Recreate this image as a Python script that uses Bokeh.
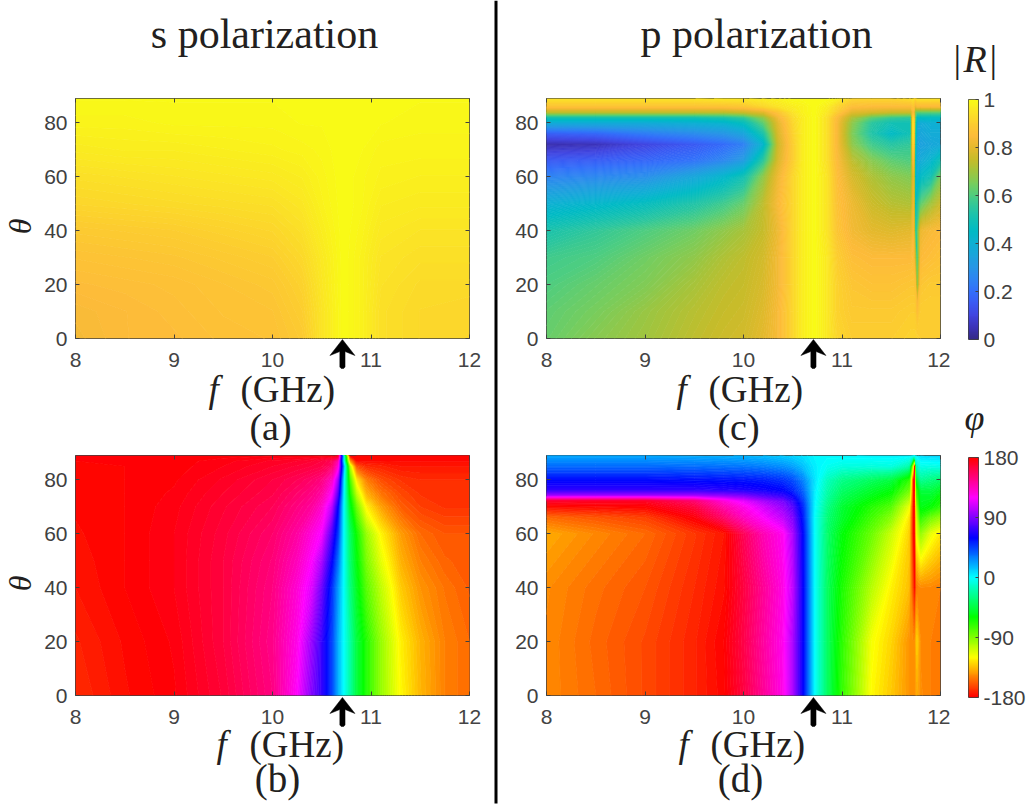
import colorsys
import math
import numpy as np
from bokeh.embed import file_html
from bokeh.layouts import column, row
from bokeh.models import FixedTicker, Label, LinearAxis, LinearColorMapper
from bokeh.plotting import figure
from bokeh.resources import INLINE

# ---------- data ----------
a_f = [8, 8.5, 9, 9.5, 10, 10.3, 10.5, 10.72, 10.9, 11.1, 11.5, 12]
a_t = [0, 10, 20, 30, 40, 50, 60, 70, 80, 89]
a_R = [
    [.835, .85, .855, .865, .87, .89, .95, 1, .98, .94, .925, .92],
    [.84, .85, .86, .87, .875, .90, .95, 1, .98, .94, .925, .92],
    [.855, .86, .865, .875, .885, .91, .955, 1, .98, .945, .93, .93],
    [.87, .875, .88, .89, .90, .925, .96, 1, .98, .95, .94, .94],
    [.89, .895, .90, .91, .92, .94, .97, 1, .985, .96, .95, .95],
    [.92, .925, .93, .935, .94, .955, .98, 1, .99, .97, .965, .965],
    [.94, .945, .95, .955, .96, .97, .985, 1, .99, .98, .975, .975],
    [.965, .97, .97, .975, .98, .985, .99, 1, .995, .985, .985, .985],
    [.985, .985, .99, .99, .99, .995, .995, 1, .995, .995, .99, .99],
    [.995, .995, .995, .995, .995, .995, .995, 1, .995, .995, .995, .995],
]

c_f = [8, 8.5, 9, 9.5, 9.8, 10, 10.2, 10.35, 10.5, 10.6, 10.72, 10.85, 10.95, 11.1, 11.3, 11.5,
       11.70, 11.725, 11.74, 11.76, 11.8, 11.9, 12]
c_t = [0, 10, 20, 30, 40, 50, 60, 66, 72, 76, 80, 82, 84, 86, 89]
c_R = [
    [.63, .67, .70, .74, .76, .77, .80, .84, .92, .97, 1, .96, .92, .90, .90, .90, .91, .91, .91, .91, .90, .90, .90],
    [.62, .65, .69, .73, .75, .76, .79, .84, .92, .97, 1, .96, .91, .89, .89, .89, .90, .90, .90, .85, .90, .90, .90],
    [.60, .63, .66, .71, .74, .75, .78, .83, .92, .97, 1, .96, .91, .88, .87, .87, .88, .88, .88, .60, .88, .89, .89],
    [.58, .60, .64, .68, .72, .74, .77, .83, .92, .97, 1, .96, .90, .86, .85, .85, .85, .86, .75, .50, .85, .86, .87],
    [.52, .56, .60, .64, .68, .71, .75, .82, .92, .97, 1, .95, .88, .83, .80, .79, .80, .84, .55, .55, .82, .84, .85],
    [.40, .43, .47, .53, .58, .63, .74, .84, .92, .97, 1, .95, .87, .82, .76, .73, .72, .82, .45, .50, .62, .70, .76],
    [.25, .26, .28, .36, .43, .50, .68, .82, .92, .97, 1, .95, .86, .78, .72, .68, .66, .80, .45, .40, .45, .50, .65],
    [.15, .16, .18, .21, .26, .32, .55, .78, .90, .97, 1, .94, .85, .74, .67, .62, .60, .85, .45, .36, .38, .42, .50],
    [.04, .05, .10, .15, .19, .24, .42, .76, .90, .97, 1, .94, .84, .68, .58, .54, .56, .92, .48, .35, .34, .36, .37],
    [.16, .18, .23, .27, .30, .35, .52, .78, .91, .97, 1, .94, .84, .66, .53, .45, .50, .95, .50, .36, .36, .38, .38],
    [.38, .38, .38, .40, .42, .47, .62, .80, .92, .97, 1, .94, .84, .68, .55, .50, .50, .95, .55, .38, .38, .40, .40],
    [.50, .50, .50, .50, .52, .56, .68, .83, .93, .97, 1, .94, .85, .72, .62, .57, .55, .92, .60, .46, .46, .46, .46],
    [.74, .74, .74, .74, .74, .76, .80, .88, .95, .98, 1, .96, .90, .80, .78, .76, .76, .85, .66, .62, .62, .62, .62],
    [.87, .87, .87, .87, .87, .88, .92, .95, .97, .98, 1, .97, .92, .86, .85, .85, .85, .88, .80, .84, .84, .84, .84],
    [.95, .95, .95, .95, .96, .96, .97, .98, 1, 1, 1, 1, .98, .92, .92, .92, .94, .95, .90, .95, .95, .95, .95],
]

# phases are kept unwrapped: the colour scale repeats every 360 degrees
b_f = [8, 8.5, 9, 9.5, 10, 10.25, 10.4, 10.5, 10.6, 10.66, 10.72, 10.78, 10.85, 10.95, 11.1, 11.3, 11.5, 11.75, 12]
b_t = [0, 20, 40, 50, 60, 70, 75, 80, 85, 87, 89]
b_phi = [
    [190, 183, 178, 167, 150, 120, 90, 72, 45, 20, 0, -20, -45, -67, -95, -121, -137, -150, -155],
    [188, 182, 177, 165, 148, 125, 95, 72, 45, 20, 0, -20, -45, -67, -95, -123, -138, -150, -155],
    [185, 180, 175, 165, 150, 130, 112, 85, 50, 25, 0, -28, -52, -80, -105, -132, -145, -153, -158],
    [184, 180, 175, 165, 152, 136, 120, 100, 62, 35, 0, -32, -57, -88, -114, -138, -150, -157, -159],
    [183, 180, 175, 166, 155, 142, 128, 118, 78, 48, 0, -35, -62, -95, -122, -143, -155, -160, -160],
    [182, 180, 176, 168, 160, 150, 143, 132, 105, 62, 0, -50, -85, -122, -142, -158, -165, -168, -168],
    [181, 180, 177, 170, 163, 155, 149, 142, 122, 82, 2, -62, -105, -138, -153, -163, -168, -169, -169],
    [181, 180, 178, 172, 165, 160, 155, 150, 135, 100, 5, -75, -125, -150, -162, -168, -170, -170, -170],
    [181, 180, 179, 175, 170, 167, 165, 163, 155, 130, 20, -100, -160, -170, -172, -175, -175, -175, -175],
    [180, 180, 179, 176, 172, 170, 168, 165, 160, 140, 0, -140, -178, -178, -178, -178, -178, -178, -178],
    [180, 180, 180, 179, 178, 178, 178, 178, 178, 175, 0, -178, -180, -180, -180, -180, -180, -180, -180],
]

d_f = [8, 8.5, 9, 9.5, 9.8, 10, 10.2, 10.4, 10.5, 10.6, 10.72, 10.85, 11, 11.3, 11.5,
       11.68, 11.72, 11.74, 11.76, 11.8, 11.9, 12]
d_t = [0, 20, 40, 60, 66, 70, 72, 74, 76, 80, 85, 89]
d_phi = [
    [212, 205, 197, 188, 181, 165, 145, 125, 100, 62, 0, -38, -72, -121, -133, -145, -146, -146, -140, -147, -150, -152],
    [212, 204, 197, 188, 180, 163, 143, 124, 100, 62, 0, -38, -70, -118, -130, -145, -147, -147, -130, -148, -150, -152],
    [213, 206, 200, 190, 183, 165, 145, 126, 105, 62, 0, -38, -66, -103, -123, -135, -165, -185, -150, -148, -148, -150],
    [220, 212, 205, 193, 185, 160, 138, 123, 100, 60, 0, -35, -58, -85, -108, -130, -178, -190, -115, -95, -115, -125],
    [205, 200, 195, 178, 155, 135, 120, 105, 90, 55, 0, -32, -50, -75, -92, -125, -178, -190, -110, -70, -85, -95],
    [182, 181, 180, 165, 140, 125, 110, 95, 80, 52, 2, -28, -48, -68, -80, -115, -178, -195, -100, -55, -60, -70],
    [170, 172, 172, 155, 130, 115, 100, 88, 72, 48, 3, -25, -44, -62, -72, -105, -178, -198, -90, -52, -55, -65],
    [100, 100, 100, 100, 95, 90, 80, 72, 62, 42, 4, -22, -40, -55, -65, -95, -178, -200, -80, -50, -50, -60],
    [72, 72, 72, 72, 70, 68, 65, 60, 52, 38, 5, -20, -36, -50, -58, -85, -178, -205, -75, -45, -45, -52],
    [58, 58, 58, 57, 56, 55, 53, 48, 42, 30, 7, -15, -28, -38, -45, -70, -178, -230, -50, -25, -30, -35],
    [35, 35, 35, 34, 33, 32, 30, 26, 22, 15, 4, -3, -7, -8, -7, -20, -120, -250, -15, -5, -6, -5],
    [20, 20, 20, 19, 18, 17, 15, 12, 10, 7, 2, 1, 2, 3, 3, 3, 3, 3, 3, 8, 10, 10],
]

x_ticks = [8, 9, 10, 11, 12]
y_ticks = [0, 20, 40, 60, 80]
r_ticks = [0, 0.2, 0.4, 0.6, 0.8, 1]
phi_ticks = [-180, -90, 0, 90, 180]
r_tick_labels = {0: "0", 0.2: "0.2", 0.4: "0.4", 0.6: "0.6", 0.8: "0.8", 1: "1"}
phi_tick_labels = {-180: "-180", -90: "-90", 0: "0", 90: "90", 180: "180"}
resonance_f = 10.71

# colour scale of |R| (value, colour)
r_stops = [
    (0.00, "#352a87"), (0.05, "#3c33b8"), (0.10, "#4145e0"), (0.15, "#3b5af3"), (0.20, "#336ffa"),
    (0.25, "#2e84f2"), (0.30, "#2796e6"), (0.35, "#1ba4dc"), (0.40, "#0eb0d3"), (0.45, "#00bac5"),
    (0.50, "#12c0b4"), (0.55, "#2bc69f"), (0.60, "#4ecd80"), (0.65, "#78cd5c"), (0.70, "#a0c53e"),
    (0.75, "#c6bc2a"), (0.80, "#e4b92d"), (0.85, "#fdbb3a"), (0.90, "#fccd2f"), (0.95, "#fbe425"),
    (1.00, "#f9fb15"),
]

# ---------- styling ----------
TICK = "#404040"
INK = "#231f20"
SANS = "Liberation Sans"
SERIF = "Liberation Serif"
PAGE_W, PAGE_H = 1028, 805
LEFT_W = 497
TOP_H, BOT_H = 445, 360
BASE_SHIFT = 0.36


def r_color(v):
    xs = [s[0] for s in r_stops]
    chans = [[int(s[1][i:i + 2], 16) for s in r_stops] for i in (1, 3, 5)]
    rgb = [int(round(np.interp(v, xs, c))) for c in chans]
    return "#%02x%02x%02x" % tuple(rgb)


def phi_color(v):
    r, g, b = colorsys.hsv_to_rgb(((v + 180.0) % 360.0) / 360.0, 1, 1)
    return "#%02x%02x%02x" % (int(round(r * 255)), int(round(g * 255)), int(round(b * 255)))


r_levels = np.linspace(0, 1.0005, 161)
phi_levels = np.arange(-270.0, 271.0, 2.5)


def axes(p, xt, yt):
    for ax, tk in ((p.xaxis[0], xt), (p.yaxis[0], yt)):
        ax.ticker = FixedTicker(ticks=tk)
    top = LinearAxis(ticker=FixedTicker(ticks=xt), major_label_overrides={t: "" for t in xt},
                     major_label_text_color=None)
    rgt = LinearAxis(ticker=FixedTicker(ticks=yt), major_label_overrides={t: "" for t in yt},
                     major_label_text_color=None)
    p.add_layout(top, "above")
    p.add_layout(rgt, "right")
    for ax in p.axis:
        ax.major_tick_in, ax.major_tick_out = 4, 0
        ax.minor_tick_line_color = None
        ax.major_tick_line_color = TICK
        ax.axis_line_color = None
        ax.major_label_text_font = SANS
        ax.major_label_text_font_size = "21px"
    for ax in p.xaxis:
        ax.major_label_standoff = 14
    for ax in p.yaxis:
        ax.major_label_standoff = 8
    for ax in (p.xaxis[0], p.yaxis[0]):
        ax.major_label_text_color = TICK


def panel(w, h, left, right, top, bottom):
    p = figure(width=w, height=h, x_range=(8, 12), y_range=(0, 89), toolbar_location=None,
               output_backend="svg", min_border_left=left, min_border_right=right,
               min_border_top=top, min_border_bottom=bottom)
    p.grid.visible = False
    p.outline_line_color = TICK
    p.outline_line_width = 1
    p.background_fill_color = None
    p.border_fill_color = None
    return p


def heat(p, fs, ts, zs, levels, colour):
    z = np.array(zs, dtype=float)
    assert z.shape == (len(ts), len(fs))
    mids = 0.5 * (levels[:-1] + levels[1:])
    p.contour(fs, ts, z, levels.tolist(), fill_color=[colour(v) for v in mids],
              line_color=[colour(v) for v in levels], line_width=1)


pa = panel(LEFT_W, TOP_H, 75, LEFT_W - 469, 98, TOP_H - 338)
heat(pa, a_f, a_t, a_R, r_levels, r_color)
axes(pa, x_ticks, y_ticks)

pb = panel(LEFT_W, BOT_H, 75, LEFT_W - 469, 10, BOT_H - 250)
heat(pb, b_f, b_t, b_phi, phi_levels, phi_color)
axes(pb, x_ticks, y_ticks)

RX = LEFT_W
RW = 950 - RX
pc = panel(RW, TOP_H, 546 - RX, 950 - 940, 98, TOP_H - 338)
heat(pc, c_f, c_t, c_R, r_levels, r_color)
axes(pc, x_ticks, y_ticks)

pd = panel(RW, BOT_H, 546 - RX, 950 - 940, 10, BOT_H - 250)
heat(pd, d_f, d_t, d_phi, phi_levels, phi_color)
axes(pd, x_ticks, y_ticks)


def bar(h, top, bottom, low, high, ticks, overrides, colour):
    p = figure(width=78, height=h, x_range=(0, 1), y_range=(low, high), toolbar_location=None,
               output_backend="svg", x_axis_location=None, y_axis_location="right",
               min_border_left=18, min_border_right=47, min_border_top=top, min_border_bottom=bottom)
    p.grid.visible = False
    p.outline_line_color = TICK
    p.background_fill_color = None
    p.border_fill_color = None
    vals = np.linspace(low, high, 256)
    mapper = LinearColorMapper(palette=[colour(v) for v in vals], low=low, high=high)
    p.image(image=[vals.reshape(-1, 1)], x=0, y=low, dw=1, dh=high - low, color_mapper=mapper)
    ax = p.yaxis[0]
    ax.ticker = FixedTicker(ticks=ticks)
    ax.major_label_overrides = overrides
    ax.major_tick_in, ax.major_tick_out = 3, 0
    ax.minor_tick_line_color = None
    ax.major_tick_line_color = TICK
    ax.axis_line_color = None
    ax.major_label_text_font = SANS
    ax.major_label_text_font_size = "21px"
    ax.major_label_text_color = TICK
    ax.major_label_standoff = 5
    return p


cb1 = bar(TOP_H, 99, TOP_H - 339, 0, 1, r_ticks, r_tick_labels, r_color)
cb2 = bar(BOT_H, 12, BOT_H - 252, -180, 180, phi_ticks, phi_tick_labels, phi_color)

# ---------- transparent overlay with the page's free texts, arrows and divider ----------
ov = figure(width=PAGE_W, height=PAGE_H, x_range=(0, PAGE_W), y_range=(PAGE_H, 0), toolbar_location=None,
            output_backend="svg", x_axis_location=None, y_axis_location=None,
            min_border=0, margin=(-PAGE_H, 0, 0, 0))
ov.grid.visible = False
ov.outline_line_color = None
ov.background_fill_color = None
ov.border_fill_color = None


def text(x, y, s, size, font=SERIF, style="normal", align="left", angle=0.0):
    ov.add_layout(Label(x=x, y=y - BASE_SHIFT * size, text=s, text_font=font, text_font_style=style,
                        text_font_size=f"{size}px", text_align=align, text_baseline="alphabetic",
                        angle=angle, text_color=INK))


def theta(y):
    ov.add_layout(Label(x=19, y=y, text="θ", text_font=SERIF, text_font_style="italic",
                        text_font_size="32px", text_align="center", text_baseline="middle",
                        angle=math.pi / 2, text_color=INK))


def arrow(tip_x, tip_y, length):
    xs = [0, 12.5, 2.6, 2.6, 1.2, -1.2, -2.6, -2.6, -12.5]
    ys = [0, 16, 12, length - 1.5, length, length, length - 1.5, 12, 16]
    ov.patch([tip_x + v for v in xs], [tip_y + v for v in ys], fill_color="black", line_color="black",
             line_width=0.5)


def fx(frame_left):
    return frame_left + (resonance_f - 8) * 98.5


ov.quad(left=[494], right=[497], top=[0], bottom=[803], fill_color="black", line_color=None)

text(264, 49, "s polarization", 42, align="center")
text(208, 402, "f", 37, style="italic")
text(240, 402, "(GHz)", 37)
text(270, 440, "(a)", 38, align="center")
theta(226)
arrow(fx(75), 339, 29)

text(216, 757, "f", 37, style="italic")
text(249, 757, "(GHz)", 37)
text(277, 792, "(b)", 39, align="center")
theta(583)
arrow(fx(75), 697, 29)

text(756, 49, "p polarization", 42, align="center")
text(676, 402, "f", 37, style="italic")
text(708, 402, "(GHz)", 37)
text(738, 440, "(c)", 38, align="center")
arrow(fx(546), 339, 29)

text(678, 757, "f", 37, style="italic")
text(710, 757, "(GHz)", 37)
text(740, 792, "(d)", 39, align="center")
arrow(fx(546), 697, 29)

text(953, 72, "|", 38)
text(963, 72, "R", 38, style="italic")
text(989, 72, "|", 38)
text(974, 430, "φ", 36, style="italic", align="center")

panels = row(column(pa, pb), column(pc, pd), column(cb1, cb2))
page = column(panels, ov)
open("out.html", "w").write(file_html(page, INLINE))
